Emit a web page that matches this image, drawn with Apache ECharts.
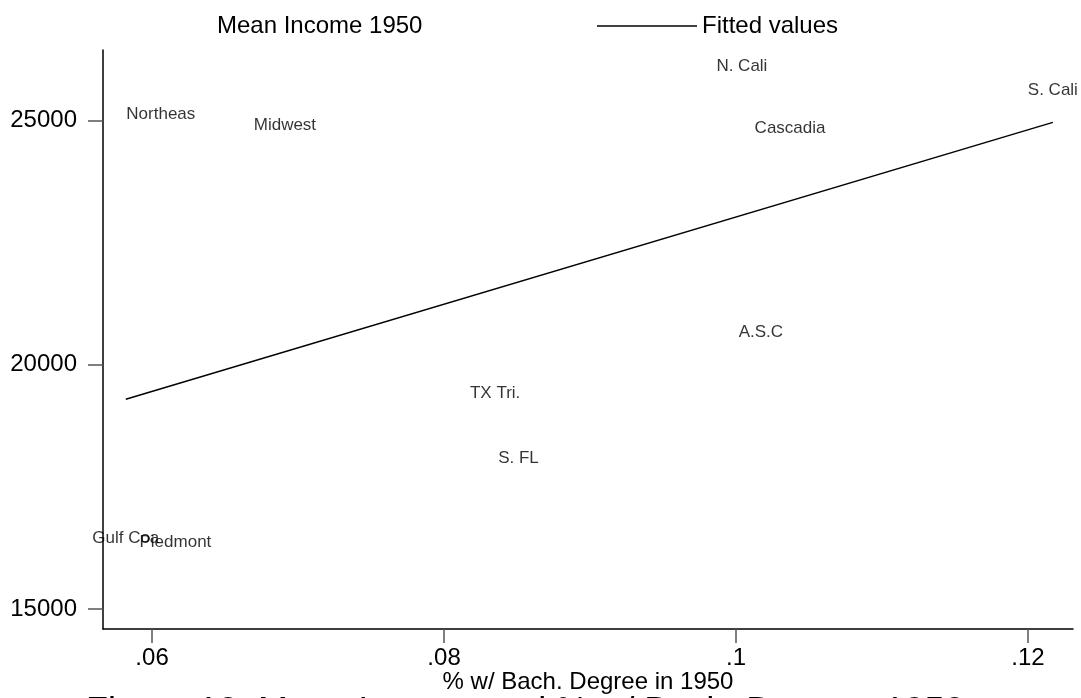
<!DOCTYPE html>
<html>
<head>
<meta charset="utf-8">
<script src="https://cdn.jsdelivr.net/npm/echarts@6/dist/echarts.min.js"></script>
<style>
  html, body { margin: 0; padding: 0; background: #fff; }
  #chart { width: 1081px; height: 698px; }
</style>
</head>
<body>
<div id="chart"></div>
<script>
// region labels (names cut to 8 chars, as in the source) and their positions
var regions = ['Northeas', 'Midwest', 'N. Cali', 'S. Cali', 'Cascadia', 'A.S.C', 'TX Tri.', 'S. FL', 'Gulf Coa', 'Piedmont'];
var bachShare = [0.0606, 0.0691, 0.1004, 0.1217, 0.1037, 0.1017, 0.0835, 0.0851, 0.0582, 0.0616];
var meanIncome = [25131, 24912, 26121, 25615, 24844, 20664, 19426, 18082, 16443, 16373];

// fitted line ends
var fitX = [0.0582, 0.1217];
var fitY = [19297, 24967];

var xTicks = [0.06, 0.08, 0.1, 0.12];
var yTicks = [15000, 20000, 25000];

var font = 'Liberation Sans, Arial, Helvetica, sans-serif';

var chart = echarts.init(document.getElementById('chart'));

var points = regions.map(function(name, i) {
    return [bachShare[i], meanIncome[i], name];
});
var fitLine = fitX.map(function(x, i) { return [x, fitY[i]]; });

chart.setOption({
    backgroundColor: '#fff',
    animation: false,
    textStyle: { fontFamily: font, color: '#000' },
    grid: { left: 103, top: 50, right: 8, bottom: 69, outerBoundsMode: 'none', containLabel: false },
    legend: [{
        data: ['Mean Income 1950'],
        left: 206, top: 9,
        icon: 'rect', itemWidth: 1, itemHeight: 1,
        itemStyle: { color: 'transparent' },
        textStyle: { fontSize: 24, color: '#000', fontFamily: font }
    }, {
        data: ['Fitted values'],
        left: 592, top: 9,
        icon: 'rect', itemWidth: 100, itemHeight: 1.5,
        itemStyle: { color: '#000' },
        textStyle: { fontSize: 24, color: '#000', fontFamily: font }
    }],
    xAxis: {
        type: 'value',
        min: 0.05664, max: 0.12308,
        name: '% w/ Bach. Degree in 1950',
        nameLocation: 'middle', nameGap: 41, nameMoveOverlap: false,
        nameTextStyle: { fontSize: 24, color: '#000', fontFamily: font },
        axisLine: { show: true, lineStyle: { color: '#000', width: 1.5 } },
        axisTick: { show: true, length: 14, customValues: xTicks, lineStyle: { color: '#555', width: 1.5 } },
        axisLabel: {
            customValues: xTicks, fontSize: 24, color: '#000', margin: 17,
            formatter: function(v) { return String(+v.toFixed(2)).replace(/^0/, ''); }
        },
        splitLine: { show: false }
    },
    yAxis: {
        type: 'value',
        min: 14590, max: 26449,
        axisLine: { show: true, lineStyle: { color: '#000', width: 1.5 } },
        axisTick: { show: true, length: 15, customValues: yTicks, lineStyle: { color: '#555', width: 1.5 } },
        axisLabel: {
            customValues: yTicks, fontSize: 24, color: '#000', margin: 26,
            formatter: function(v) { return String(Math.round(v)); }
        },
        splitLine: { show: false }
    },
    series: [{
        name: 'Mean Income 1950',
        type: 'scatter',
        data: points,
        symbolSize: 1,
        itemStyle: { color: 'transparent' },
        label: {
            show: true, position: 'inside',
            fontSize: 17, color: '#000', fontFamily: font,
            formatter: function(p) { return p.data[2]; }
        }
    }, {
        name: 'Fitted values',
        type: 'line',
        data: fitLine,
        symbol: 'none',
        lineStyle: { color: '#000', width: 1.5 }
    }],
    graphic: [{
        type: 'text',
        left: 86, top: 695,
        style: {
            text: 'Figure 12: Mean Income and % w/ Bach. Degree, 1950',
            fontSize: 36, fill: '#000', fontFamily: font
        }
    }]
});
</script>
</body>
</html>
